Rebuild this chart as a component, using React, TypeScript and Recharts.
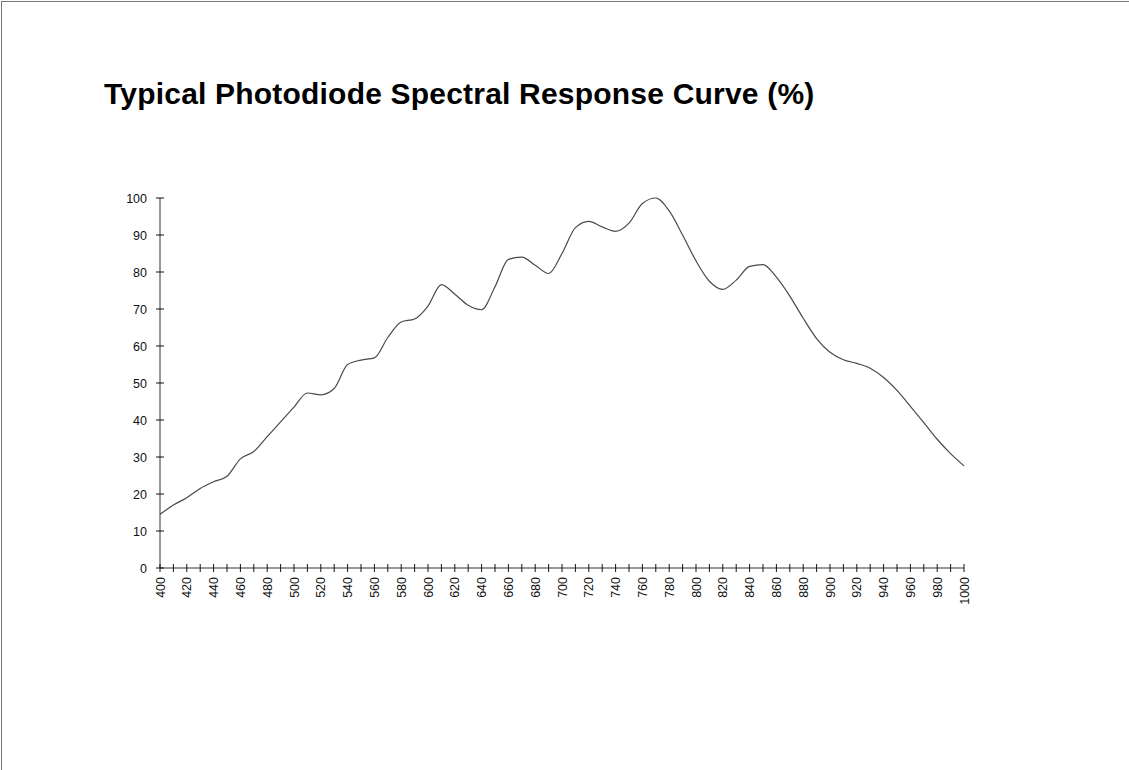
import React from 'react';
import { LineChart, Line, XAxis, YAxis } from 'recharts';

// wavelength in nm, sampled every 10 nm
const wavelengths = [
  400, 410, 420, 430, 440, 450, 460, 470, 480, 490,
  500, 510, 520, 530, 540, 550, 560, 570, 580, 590,
  600, 610, 620, 630, 640, 650, 660, 670, 680, 690,
  700, 710, 720, 730, 740, 750, 760, 770, 780, 790,
  800, 810, 820, 830, 840, 850, 860, 870, 880, 890,
  900, 910, 920, 930, 940, 950, 960, 970, 980, 990, 1000,
];

// relative response (%)
const response = [
  14.5, 17, 19, 21.5, 23.3, 24.8, 29.5, 31.5, 35.5, 39.5,
  43.5, 47.3, 46.8, 48.5, 55, 56.2, 56.8, 62.3, 66.5, 67.3,
  70.8, 76.6, 74, 71, 69.8, 76, 83.4, 84, 81.8, 79.6,
  85, 92, 93.7, 92.2, 91, 93.2, 98.5, 100, 96.5, 90,
  83, 77.5, 75.3, 77.8, 81.5, 82, 78.6, 73.5, 67.5, 62,
  58.3, 56.3, 55.3, 54, 51.5, 48, 43.7, 39.3, 34.8, 30.9, 27.6,
];

const xTicks = wavelengths;
const yTicks = [0, 10, 20, 30, 40, 50, 60, 70, 80, 90, 100];

const chartData = wavelengths.map((nm, i) => ({ nm, value: response[i] }));

const tickFont = '"Liberation Sans", Arial, sans-serif';

const XTick = (props: any) => {
  const { x, y, payload } = props;
  const v = payload.value;
  return (
    <g>
      <line x1={x} x2={x} y1={y - 4} y2={y + 4} stroke="#111" />
      {v % 20 === 0 && (
        <text
          transform={`translate(${x + 4.5},${y + 9}) rotate(-90)`}
          textAnchor="end"
          fontSize={12.5}
          fontFamily={tickFont}
          fill="#111"
        >
          {v}
        </text>
      )}
    </g>
  );
};

const YTick = (props: any) => {
  const { x, y, payload } = props;
  return (
    <g>
      <line x1={x - 4} x2={x + 4} y1={y} y2={y} stroke="#111" />
      <text
        x={x - 13}
        y={y}
        dy={4.5}
        textAnchor="end"
        fontSize={12.5}
        fontFamily={tickFont}
        fill="#111"
      >
        {payload.value}
      </text>
    </g>
  );
};

const App: React.FC = () => {
  return (
    <div
      style={{
        position: 'absolute',
        left: 0,
        top: 0,
        width: 1129,
        height: 770,
        background: '#fff',
        overflow: 'hidden',
      }}
    >
      {/* frame edges */}
      <div
        style={{
          position: 'absolute',
          left: 1,
          top: 1,
          width: 1128,
          height: 769,
          borderTop: '1px solid #777',
          borderLeft: '1px solid #777',
        }}
      />
      <div
        style={{
          position: 'absolute',
          left: 104,
          top: 77,
          fontFamily: '"Liberation Sans", Arial, sans-serif',
          fontWeight: 'bold',
          fontSize: 30,
          letterSpacing: 0.2,
          lineHeight: '34px',
          color: '#000',
          whiteSpace: 'nowrap',
        }}
      >
        Typical Photodiode Spectral Response Curve (%)
      </div>
      <div style={{ position: 'absolute', left: 0, top: 0 }}>
        <LineChart
          width={1129}
          height={770}
          data={chartData}
          margin={{ top: 198, right: 165, bottom: 162, left: 100 }}
        >
          <XAxis
            dataKey="nm"
            type="number"
            domain={[400, 1000]}
            ticks={xTicks}
            interval={0}
            tickLine={false}
            tickSize={0}
            tickMargin={0}
            height={40}
            stroke="#333"
            tick={<XTick />}
          />
          <YAxis
            type="number"
            domain={[0, 100]}
            ticks={yTicks}
            interval={0}
            tickLine={false}
            tickSize={0}
            tickMargin={0}
            width={60}
            stroke="#333"
            tick={<YTick />}
          />
          <Line
            type="monotone"
            dataKey="value"
            stroke="#4a4a4a"
            strokeWidth={1.2}
            dot={false}
            isAnimationActive={false}
          />
        </LineChart>
      </div>
    </div>
  );
};

export default App;
